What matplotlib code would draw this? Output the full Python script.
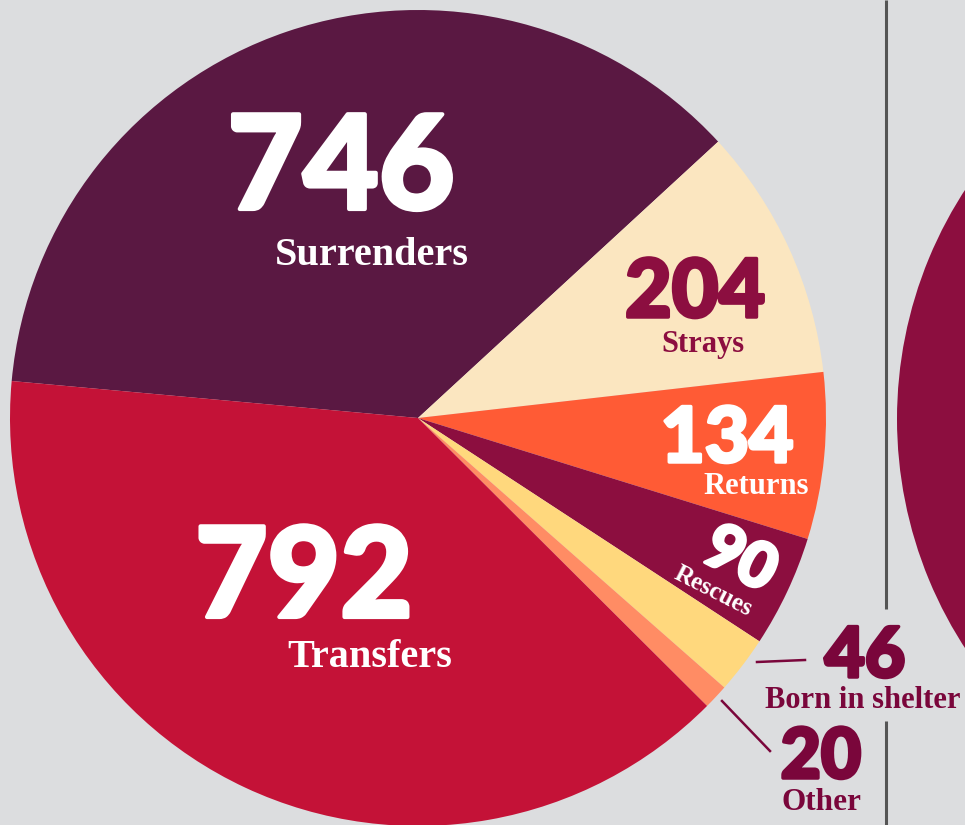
import matplotlib
matplotlib.use("Agg")
import matplotlib.pyplot as plt
import matplotlib.patheffects as pe

# intake sources, clockwise from the left edge
labels = ["Surrenders", "Strays", "Returns", "Rescues", "Born in shelter", "Other", "Transfers"]
counts = [746, 204, 134, 90, 46, 20, 792]
colors = ["#5a1842", "#fbe6c0", "#ff5b35", "#8c0e3f", "#ffd87d", "#ff8c64", "#c41237"]

# the neighbouring (cut off) chart on the right
right_counts = [1]
right_colors = ["#8c0e3f"]

W, H = 965, 825
BG = "#dcdddf"
DARK = "#7a063b"
WINE = "#8c0e40"
NUM_FONT = ["Lato", "DejaVu Sans"]
LBL_FONT = ["Liberation Serif", "DejaVu Serif"]


def Y(y):
    # picture rows -> axes y (pointing up)
    return H - y


fig = plt.figure(figsize=(W / 100, H / 100), dpi=100)
fig.patch.set_facecolor(BG)
ax = fig.add_axes([0, 0, 1, 1])
ax.set_facecolor(BG)

ax.pie(counts, colors=colors, startangle=174.8, counterclock=False,
       center=(418, Y(418)), radius=408,
       wedgeprops=dict(linewidth=0.6, edgecolor="none"))
ax.pie(right_counts, colors=right_colors, center=(1317, Y(419)), radius=420,
       wedgeprops=dict(linewidth=0))

ax.set_xlim(0, W)
ax.set_ylim(0, H)
ax.set_aspect("auto")
ax.axis("off")

# divider line
ax.plot([886, 886], [Y(0), Y(609)], color="#555555", lw=2.2, solid_capstyle="butt")
ax.plot([886, 886], [Y(721), Y(825)], color="#555555", lw=2.2, solid_capstyle="butt")


def num(x, y, txt, size, color, rot=0, stroke=2.5, va="baseline"):
    ax.text(x, Y(y), txt, fontsize=size, color=color, family=NUM_FONT,
            fontweight="black", ha="center", va=va, rotation=rot,
            rotation_mode="anchor",
            path_effects=[pe.withStroke(linewidth=stroke, foreground=color)])


def lbl(x, y, txt, size, color, rot=0, va="baseline"):
    ax.text(x, Y(y), txt, fontsize=size, color=color, family=LBL_FONT,
            fontweight="bold", ha="center", va=va, rotation=rot,
            rotation_mode="anchor")


num(341, 209, str(counts[0]), 94, "white", stroke=3)
lbl(372, 265, labels[0], 29, "white")

num(695, 317, str(counts[1]), 58, WINE)
lbl(703, 352, labels[1], 22, WINE)

num(727, 462, str(counts[2]), 55, "white")
lbl(756, 494, labels[2], 22, "white")

num(740, 560, str(counts[3]), 45, "white", rot=-27, va="center")
lbl(713, 591, labels[3], 18, "white", rot=-27, va="center")

num(865, 677, str(counts[4]), 50, DARK)
lbl(863, 708, labels[4], 22, DARK)
ax.plot([757, 805], [Y(662), Y(660)], color=DARK, lw=1.8)

num(821, 778, str(counts[5]), 50, DARK)
lbl(821, 810, labels[5], 22.5, DARK)
ax.plot([722, 770], [Y(701), Y(751)], color=DARK, lw=1.8)

num(304, 617, str(counts[6]), 90, "white", stroke=3)
lbl(370, 667, labels[6], 29, "white")

fig.savefig("out.png", dpi=100, facecolor=BG)
